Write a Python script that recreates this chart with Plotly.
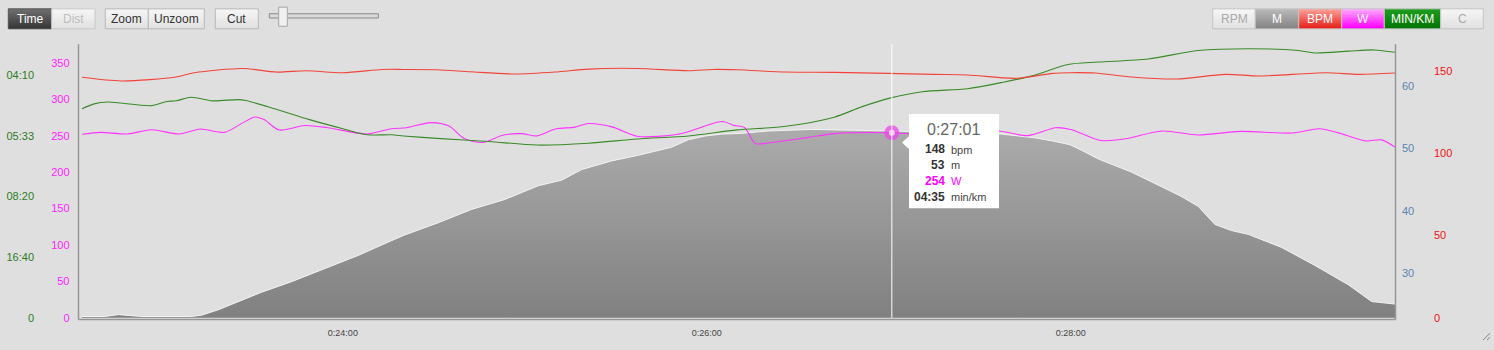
import plotly.graph_objects as go

W, H = 1494, 350

# ---------------- data ----------------
# time in seconds since start
HR_T = [1354, 1367, 1385, 1391, 1407, 1418, 1428, 1440, 1453, 1460, 1471, 1482, 1497, 1510,
        1521, 1537, 1554, 1562, 1570, 1586, 1602, 1620, 1635, 1646, 1662, 1674, 1680, 1688,
        1700, 1715, 1731, 1742, 1764, 1775, 1787]
HR_BPM = [146.0, 143.8, 146.2, 148.8, 151.4, 149.2, 150.0, 148.8, 150.8, 150.8, 150.6, 149.4,
          148.0, 149.2, 151.0, 151.4, 150.0, 150.8, 150.6, 149.2, 149.0, 148.4, 147.8, 147.4,
          145.4, 148.4, 148.8, 148.6, 146.2, 145.0, 147.8, 146.8, 148.8, 147.8, 148.6]

SPD_T = [1354, 1358, 1362.5, 1377, 1382, 1385, 1390, 1397, 1405.5, 1408, 1418, 1429, 1440,
         1448, 1456, 1460, 1471, 1488, 1504, 1521, 1537, 1554, 1570, 1586, 1602, 1611, 1620,
         1631, 1646, 1657, 1668, 1679, 1689, 1705.5, 1722, 1738.5, 1755, 1760.5, 1771.5,
         1780, 1787]
SPD_MS = [3.45, 3.53, 3.56, 3.50, 3.57, 3.58, 3.64, 3.58, 3.60, 3.585, 3.44, 3.27, 3.12,
          3.02, 3.02, 3.00, 2.96, 2.91, 2.85, 2.88, 2.95, 3.00, 3.10, 3.16, 3.31, 3.48, 3.62,
          3.73, 3.78, 3.88, 4.00, 4.18, 4.22, 4.27, 4.41, 4.44, 4.41, 4.37, 4.40, 4.42, 4.38]

PWR_T = [1354, 1360, 1369, 1377, 1386, 1393, 1401, 1407, 1411, 1414, 1419, 1427.5, 1435,
         1448, 1456, 1461, 1469, 1475, 1480, 1486, 1493, 1499, 1504, 1510, 1516.5, 1521,
         1529, 1537, 1551, 1565, 1569, 1572.5, 1576, 1582, 1593, 1602, 1621, 1631, 1656,
         1666, 1675, 1680, 1690, 1698, 1710, 1722, 1736, 1753, 1762, 1768, 1777, 1782.5, 1787]
PWR_W = [251.9, 254.6, 252.4, 258.2, 252.4, 259.1, 254.6, 267.6, 275.7, 272.1, 257.8, 264.0,
         260.9, 252.4, 259.5, 261.0, 268.0, 263.2, 246.1, 240.7, 251.0, 252.8, 249.7, 259.1,
         261.8, 266.7, 261.8, 249.2, 252.4, 269.4, 264.0, 261.0, 239.3, 241.1, 247.4, 252.8,
         254.0, 251.9, 256.4, 250.1, 260.9, 258.6, 243.4, 245.7, 256.4, 251.0, 255.9, 253.7,
         259.6, 254.2, 242.9, 244.3, 233.9]

ELE_T = [1354, 1361.5, 1366, 1373.6, 1390, 1393.4, 1399, 1404.4, 1413.2, 1423.1, 1434.1,
         1445, 1456.1, 1460.4, 1471.4, 1482.4, 1493.4, 1504.4, 1512.1, 1518.7, 1528.6,
         1537.4, 1548.4, 1553.9, 1559.5, 1564.9, 1571, 1580.2, 1594.5, 1619.8, 1640,
         1657.2, 1668.2, 1674, 1679.7, 1684, 1689.1, 1700, 1711, 1716, 1722, 1727.5, 1733,
         1738.5, 1749.5, 1760.5, 1771.5, 1779.2, 1786.9]
ELE_M = [23.0, 23.0, 23.3, 23.0, 23.0, 23.2, 24.1, 25.2, 26.9, 28.6, 30.7, 32.8, 35.2, 36.1,
         38.05, 40.2, 41.8, 44.0, 44.9, 46.6, 48.0, 48.9, 50.2, 51.4, 52.0, 52.3, 52.4, 52.8,
         53.05, 52.8, 52.6, 52.3, 51.7, 51.2, 50.6, 49.6, 48.3, 46.2, 43.6, 42.4, 40.7, 37.8,
         36.8, 36.2, 34.1, 31.2, 28.1, 25.4, 25.0]

X_TICKS = [1440, 1560, 1680]
X_TICK_TEXT = ["0:24:00", "0:26:00", "0:28:00"]
PACE_TICKS = [0, 1, 2, 3, 4]
PACE_TICK_TEXT = ["0", "16:40", "08:20", "05:33", "04:10"]
PWR_TICKS = [0, 50, 100, 150, 200, 250, 300, 350]
ELE_TICKS = [30, 40, 50, 60]
HR_TICKS = [0, 50, 100, 150]

HOVER_T = 1621
HOVER_LABEL = "0:27:01"
HOVER_BPM = 148
HOVER_ELE = 53
HOVER_W = 254
HOVER_PACE = "04:35"

LEFT_BUTTONS = ["Time", "Dist"]
EDIT_BUTTONS = ["Zoom", "Unzoom"]
CUT_BUTTON = "Cut"
RIGHT_BUTTONS = ["RPM", "M", "BPM", "W", "MIN/KM", "C"]

# ---------------- styling ----------------
FONT = "Liberation Sans, Arial, Helvetica, sans-serif"
BG = "#e0dfdf"
RED = "#f0443a"
GREEN = "#3a8a2a"
MAGENTA = "#ff33ff"
ELE_COL = "#5b84b1"

X_RANGE = [1353.0, 1786.9]
ELE_RANGE = [22.8, 66.74]
HR_RANGE = [0, 166.1]
PWR_RANGE = [0, 375.6]
SPD_RANGE = [0, 4.514]


def px(x):
    return x / W


def py(y):
    return 1 - y / H


def hex2rgb(h):
    h = h.lstrip("#")
    return tuple(int(h[i:i + 2], 16) for i in (0, 2, 4))


def mix(c1, c2, t):
    a, b = hex2rgb(c1), hex2rgb(c2)
    return "rgb(%d,%d,%d)" % tuple(round(a[i] + (b[i] - a[i]) * t) for i in range(3))


shapes = []
annotations = []


def button(x0, x1, label, top, bot, tcolor, y0=9.0, y1=29.3, border="#b8b8b8", bands=10):
    hgt = (y1 - y0) / bands
    for i in range(bands):
        shapes.append(dict(type="rect", xref="paper", yref="paper",
                           x0=px(x0), x1=px(x1), y0=py(y0 + i * hgt), y1=py(y0 + (i + 1) * hgt + 0.3),
                           fillcolor=mix(top, bot, i / (bands - 1)), line=dict(width=0), layer="above"))
    shapes.append(dict(type="rect", xref="paper", yref="paper", x0=px(x0), x1=px(x1),
                       y0=py(y0), y1=py(y1), line=dict(color=border, width=1), layer="above"))
    annotations.append(dict(xref="paper", yref="paper", x=px((x0 + x1) / 2), y=py((y0 + y1) / 2 + 0.5),
                            text=label, showarrow=False, xanchor="center", yanchor="middle",
                            font=dict(family=FONT, size=12, color=tcolor)))


LIGHT_T, LIGHT_B = "#f5f5f5", "#e2e2e2"
button(8.3, 51.7, LEFT_BUTTONS[0], "#6e6e6e", "#383838", "#ffffff", border="#555555")
button(51.7, 95.0, LEFT_BUTTONS[1], LIGHT_T, LIGHT_B, "#bdbdbd", border="#c8c8c8")
button(105.3, 148.3, EDIT_BUTTONS[0], LIGHT_T, LIGHT_B, "#333333")
button(148.3, 204.3, EDIT_BUTTONS[1], LIGHT_T, LIGHT_B, "#333333")
button(215.3, 258.3, CUT_BUTTON, LIGHT_T, LIGHT_B, "#333333")

rb = [(1212.7, 1255.3, LIGHT_T, LIGHT_B, "#aaaaaa"),
      (1255.3, 1298.7, "#b8b8b8", "#858585", "#ffffff"),
      (1298.7, 1341.7, "#ff9d96", "#e5231a", "#ffffff"),
      (1341.7, 1384.3, "#ffa6ff", "#ff00ff", "#ffffff"),
      (1384.3, 1440.7, "#1c9c1c", "#067606", "#ffffff"),
      (1440.7, 1483.3, LIGHT_T, LIGHT_B, "#aaaaaa")]
for (a, b, t, bt, tc), lab in zip(rb, RIGHT_BUTTONS):
    button(a, b, lab, t, bt, tc, border="#c4c4c4")

# slider
shapes.append(dict(type="rect", xref="paper", yref="paper", x0=px(269.3), x1=px(378.3),
                   y0=py(14), y1=py(18.3), fillcolor="#dadada", line=dict(color="#8a8a8a", width=1)))
shapes.append(dict(type="rect", xref="paper", yref="paper", x0=px(278.7), x1=px(287.3),
                   y0=py(7.3), y1=py(26.7), fillcolor="#f0f0f0", line=dict(color="#a5a5a5", width=1)))

# plot frame
FR = "#969696"
shapes.append(dict(type="line", xref="paper", yref="paper", x0=px(78.5), x1=px(78.5),
                   y0=py(45), y1=py(325.3), line=dict(color=FR, width=1.5)))
shapes.append(dict(type="line", xref="paper", yref="paper", x0=px(78.5), x1=px(1395.5),
                   y0=py(325), y1=py(325), line=dict(color=FR, width=1.5)))
shapes.append(dict(type="line", xref="paper", yref="paper", x0=px(1395.5), x1=px(1395.5),
                   y0=py(45), y1=py(325.3), line=dict(color=FR, width=1.5)))

# crosshair
shapes.append(dict(type="line", xref="x", yref="paper", x0=HOVER_T, x1=HOVER_T,
                   y0=py(323.3), y1=py(45), line=dict(color="#ffffff", width=1)))

# tooltip box
shapes.append(dict(type="rect", xref="paper", yref="paper", x0=px(909), x1=px(999),
                   y0=py(116), y1=py(212), fillcolor="#ffffff", line=dict(width=0), layer="above"))
shapes.append(dict(type="path", xref="paper", yref="paper",
                   path="M %f %f L %f %f L %f %f Z" % (px(909.5), py(138), px(902), py(145), px(909.5), py(152)),
                   fillcolor="#ffffff", line=dict(width=0), layer="above"))

# resize grip
shapes.append(dict(type="line", xref="paper", yref="paper", x0=px(1483), x1=px(1490),
                   y0=py(346), y1=py(339), line=dict(color="#8a8a8a", width=1)))
shapes.append(dict(type="line", xref="paper", yref="paper", x0=px(1487), x1=px(1490),
                   y0=py(346), y1=py(343), line=dict(color="#8a8a8a", width=1)))

annotations.append(dict(xref="paper", yref="paper", x=px(954), y=py(132), text=HOVER_LABEL,
                        showarrow=False, xanchor="center", yanchor="middle",
                        font=dict(family=FONT, size=16, color="#666666")))
rows = [(str(HOVER_BPM), "bpm", "#333333", "#444444", 151.7),
        (str(HOVER_ELE), "m", "#333333", "#444444", 167.7),
        (str(HOVER_W), "W", "#ff00ff", "#ff00ff", 183.7),
        (HOVER_PACE, "min/km", "#333333", "#444444", 200.3)]
for num, unit, c1, c2, yy in rows:
    annotations.append(dict(xref="paper", yref="paper", x=px(946.5), y=py(yy), text="<b>%s</b>" % num,
                            showarrow=False, xanchor="right", yanchor="middle",
                            font=dict(family=FONT, size=12, color=c1)))
    annotations.append(dict(xref="paper", yref="paper", x=px(948.5), y=py(yy + 0.5), text=unit,
                            showarrow=False, xanchor="left", yanchor="middle",
                            font=dict(family=FONT, size=11, color=c2)))

# ---------------- traces ----------------
fig = go.Figure()
fig.add_trace(go.Scatter(
    x=ELE_T, y=ELE_M, yaxis="y", mode="lines", line=dict(color="rgba(246,246,246,0.95)", width=1),
    fill="tozeroy",
    fillgradient=dict(type="vertical", colorscale=[[0, "#7f7f7f"], [1, "#ababab"]],
                      start=ELE_RANGE[0], stop=max(ELE_M)),
    hoverinfo="skip"))
fig.add_trace(go.Scatter(x=SPD_T, y=SPD_MS, yaxis="y3", mode="lines",
                         line=dict(color=GREEN, width=1.1, shape="spline", smoothing=0.8)))
fig.add_trace(go.Scatter(x=HR_T, y=HR_BPM, yaxis="y4", mode="lines",
                         line=dict(color=RED, width=1.1, shape="spline", smoothing=0.8)))
fig.add_trace(go.Scatter(x=PWR_T, y=PWR_W, yaxis="y2", mode="lines",
                         line=dict(color=MAGENTA, width=1.1, shape="spline", smoothing=0.8)))
fig.add_trace(go.Scatter(x=[HOVER_T], y=[HOVER_W], yaxis="y2", mode="markers",
                         marker=dict(size=15, color="rgba(236,70,236,0.75)", line=dict(width=0))))
fig.add_trace(go.Scatter(x=[HOVER_T], y=[HOVER_W], yaxis="y2", mode="markers",
                         marker=dict(size=6, color="rgba(252,205,252,0.95)", line=dict(width=0))))

ydom = [py(323.3), py(45)]
common = dict(showgrid=False, zeroline=False, showline=False, ticks="",
              anchor="free", domain=ydom)
fig.update_layout(
    width=W, height=H, autosize=False,
    margin=dict(l=0, r=0, t=0, b=0, pad=0),
    paper_bgcolor=BG, plot_bgcolor=BG,
    showlegend=False, hovermode=False,
    font=dict(family=FONT),
    xaxis=dict(domain=[px(79), px(1395)], range=X_RANGE, tickvals=X_TICKS, ticktext=X_TICK_TEXT,
               tickfont=dict(family=FONT, size=9, color="#444444"), showgrid=False, zeroline=False,
               showline=False, ticks="outside", ticklen=6, tickcolor="rgba(0,0,0,0)", anchor="y"),
    yaxis=dict(range=ELE_RANGE, tickvals=ELE_TICKS, side="right", position=px(1401),
               tickfont=dict(family=FONT, size=11, color=ELE_COL), **common),
    yaxis2=dict(range=PWR_RANGE, tickvals=PWR_TICKS, side="left", position=px(69.5),
                overlaying="y", tickfont=dict(family=FONT, size=11, color="#ff22ff"), **common),
    yaxis3=dict(range=SPD_RANGE, tickvals=PACE_TICKS, ticktext=PACE_TICK_TEXT, side="left",
                position=px(34), overlaying="y",
                tickfont=dict(family=FONT, size=11, color="#2a7d1e"), **common),
    yaxis4=dict(range=HR_RANGE, tickvals=HR_TICKS, side="right", position=px(1433),
                overlaying="y", tickfont=dict(family=FONT, size=11, color="#ee1111"), **common),
    shapes=shapes,
    annotations=annotations,
)

fig.write_html("out.html", config={"displayModeBar": False, "staticPlot": True})
